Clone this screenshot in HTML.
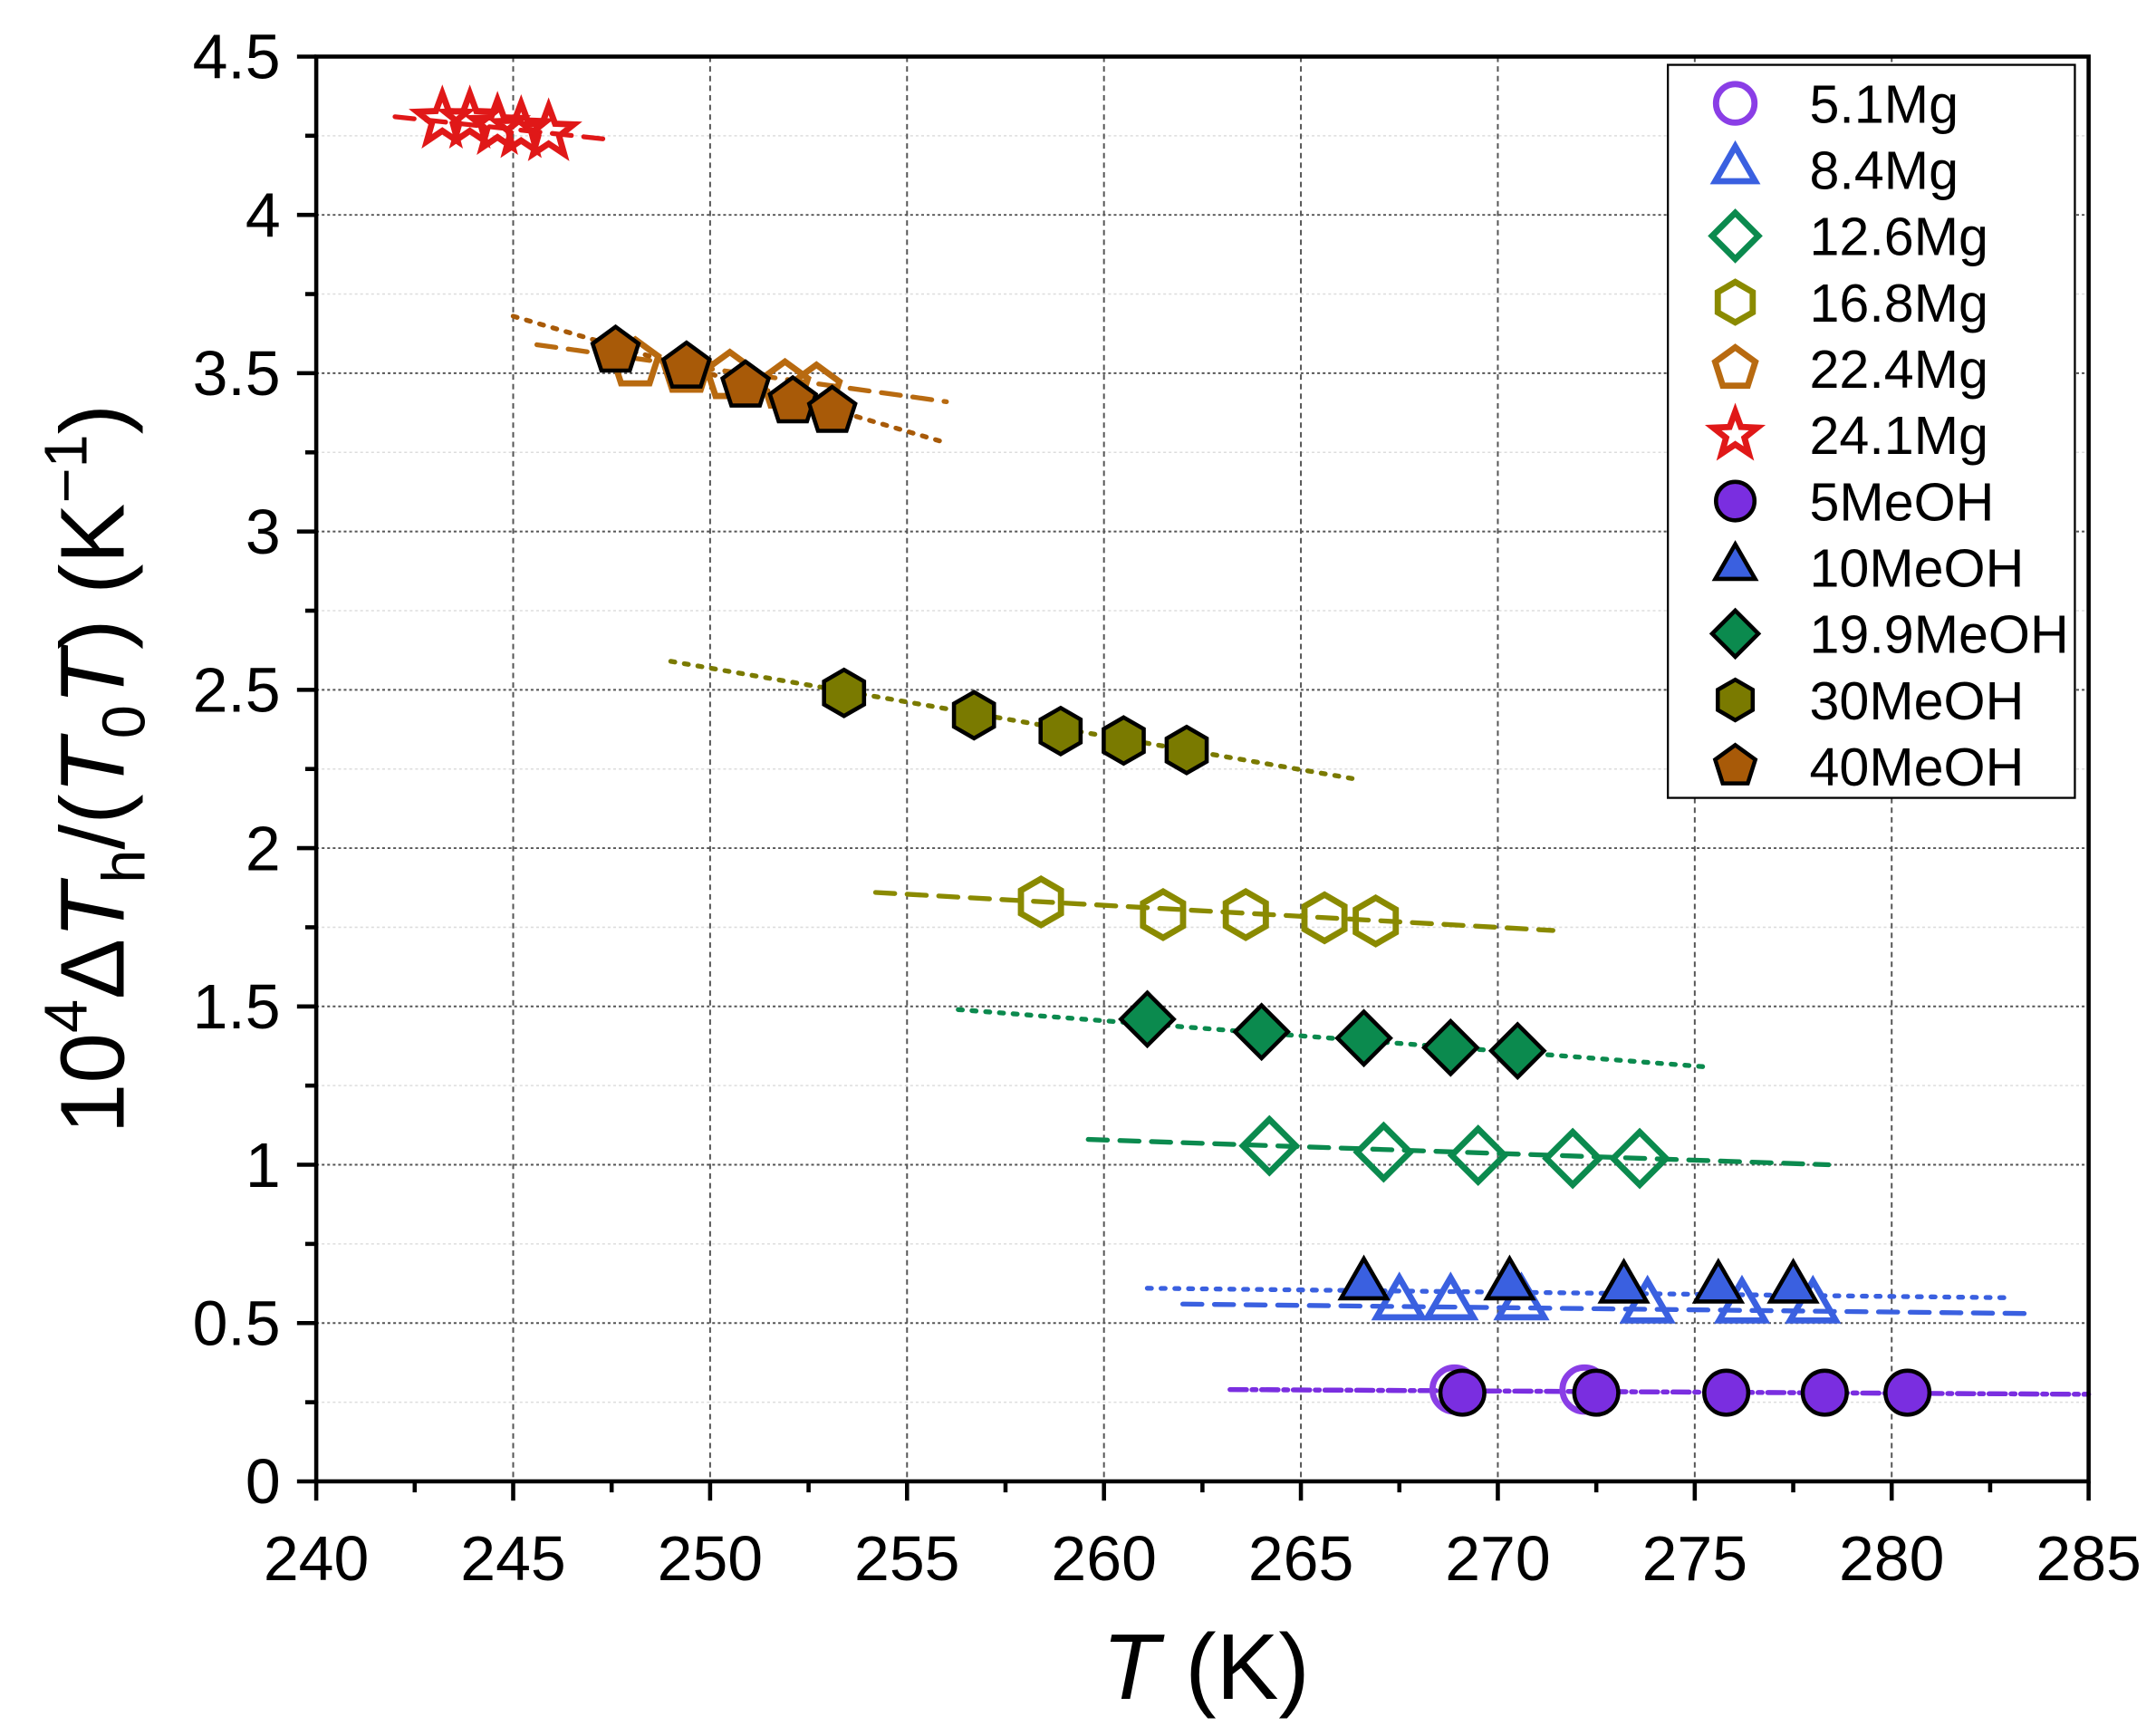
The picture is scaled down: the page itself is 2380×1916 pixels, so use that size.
<!DOCTYPE html>
<html><head><meta charset="utf-8"><style>
html,body{margin:0;padding:0;background:#fff}
svg{display:block}
text{font-family:"Liberation Sans",sans-serif}
</style></head><body>
<svg id="chart" width="2380" height="1916" viewBox="0 0 1568 1262" xmlns="http://www.w3.org/2000/svg">
<g id="grid"></g>
<g id="fits"></g>
<g id="marks"></g>
<g id="axes"></g>
<text x="877" y="1235" font-size="68" text-anchor="middle"><tspan font-style="italic">T</tspan> (K)</text>
<text transform="translate(90,559) rotate(-90)" font-size="66" text-anchor="middle">10<tspan font-size="44" dy="-27">4</tspan><tspan dy="27">Δ</tspan><tspan font-style="italic">T</tspan><tspan font-size="44" dy="15">h</tspan><tspan dy="-15">/(</tspan><tspan font-style="italic">T</tspan><tspan font-size="44" dy="15">0</tspan><tspan font-style="italic" dy="-15">T</tspan>) (K<tspan font-size="44" dy="-27">−1</tspan><tspan dy="27">)</tspan></text>
<g id="legend"></g>
</svg>
<script>
const NS="http://www.w3.org/2000/svg";
const seriesNames=["5.1Mg","8.4Mg","12.6Mg","16.8Mg","22.4Mg","24.1Mg","5MeOH","10MeOH","19.9MeOH","30MeOH","40MeOH"];
const seriesColors=["#8a3ee6","#3a60e0","#0b8a4e","#8a8a00","#b86a10","#e01818","#7a2ee0","#3a60e0","#0b8a4e","#7a7a00","#a85a08"];
const seriesShapes=["circle","triangle","diamond","hexagon","pentagon","star","circle","triangle","diamond","hexagon","pentagon"];
const seriesFilled=[false,false,false,false,false,false,true,true,true,true,true];
const xTicks=[240,245,250,255,260,265,270,275,280,285];
const yTicks=[0,0.5,1,1.5,2,2.5,3,3.5,4,4.5];
const yTickLabels=["0","0.5","1","1.5","2","2.5","3","3.5","4","4.5"];
// data
const t51=[268.9,272.2], v51=[0.29,0.29];
const t84=[267.5,268.8,270.6,273.8,276.2,278.0], v84=[0.56,0.56,0.56,0.55,0.55,0.55];
const t126=[264.2,267.1,269.5,271.9,273.6], v126=[1.06,1.04,1.03,1.02,1.02];
const t168=[258.4,261.5,263.6,265.6,266.9], v168=[1.83,1.79,1.79,1.78,1.77];
const t224=[248.1,249.4,250.5,251.9,252.7], v224=[3.53,3.51,3.49,3.46,3.45];
const t241=[243.2,243.9,244.6,245.2,245.9], v241=[4.30,4.30,4.28,4.27,4.26];
const t5m=[269.1,272.5,275.8,278.3,280.4], v5m=[0.28,0.28,0.28,0.28,0.28];
const t10m=[266.6,270.3,273.2,275.6,277.5], v10m=[0.62,0.62,0.61,0.61,0.61];
const t199m=[261.1,264.0,266.6,268.8,270.5], v199m=[1.46,1.42,1.40,1.37,1.36];
const t30m=[253.4,256.7,258.9,260.5,262.1], v30m=[2.49,2.42,2.37,2.34,2.31];
const t40m=[247.6,249.4,250.9,252.1,253.1], v40m=[3.57,3.52,3.46,3.41,3.38];
const seriesT=[t51,t84,t126,t168,t224,t241,t5m,t10m,t199m,t30m,t40m];
const seriesV=[v51,v84,v126,v168,v224,v241,v5m,v10m,v199m,v30m,v40m];
const fitT1=[263.2,262.0,259.6,254.2,245.6,242.0,263.2,261.1,256.3,249.0,245.0];
const fitV1=[0.29,0.56,1.08,1.86,3.59,4.31,0.29,0.61,1.49,2.59,3.68];
const fitT2=[285.0,283.5,278.4,271.4,256.0,247.3,285.0,283.0,275.2,266.3,256.0];
const fitV2=[0.275,0.53,1.00,1.74,3.41,4.24,0.275,0.58,1.31,2.22,3.28];
const fitDash=["12 4 3 4","14 9","14 9","14 9","14 9","14 9","12 4 3 4","3 7","3 7","3 7","3 7"];

const X0=230,X1=1519,Y0=1077,Y1=41;
const xs=t=>X0+(t-240)/(285-240)*(X1-X0);
const ys=v=>Y0-v/4.5*(Y0-Y1);
function mk(tag,attrs,parent){const e=document.createElementNS(NS,tag);for(const k in attrs)e.setAttribute(k,attrs[k]);parent.appendChild(e);return e;}
const grid=document.getElementById('grid'),axes=document.getElementById('axes'),fits=document.getElementById('fits'),marks=document.getElementById('marks'),legend=document.getElementById('legend');

for(let v=0.25;v<4.5;v+=0.5){const l=mk('line',{x1:X0,x2:X1,y1:ys(v),y2:ys(v),stroke:'#ddd','stroke-width':1,'stroke-dasharray':'2 2'},grid);

}
xTicks.slice(1,-1).forEach(t=>{const l=mk('line',{x1:xs(t),x2:xs(t),y1:Y1,y2:Y0,stroke:'#555','stroke-width':1.3,'stroke-dasharray':'4 3'},grid);

});
yTicks.slice(1,-1).forEach(v=>{const l=mk('line',{x1:X0,x2:X1,y1:ys(v),y2:ys(v),stroke:'#555','stroke-width':1.3,'stroke-dasharray':'2 2'},grid);

});

const frame=mk('rect',{x:X0,y:Y1,width:X1-X0,height:Y0-Y1,fill:'none',stroke:'#000','stroke-width':3},axes);


for(let t=240;t<=285;t+=2.5){const major=(t%5===0);const l=mk('line',{x1:xs(t),x2:xs(t),y1:Y0,y2:Y0+(major?14:8),stroke:'#000','stroke-width':3},axes);

}
xTicks.forEach(t=>{const tx=mk('text',{x:xs(t),y:Y0+72,'font-size':46,'text-anchor':'middle'},axes);tx.textContent=t;

});
for(let v=0;v<=4.5001;v+=0.25){const major=(Math.round(v*4)%2===0);const l=mk('line',{x1:X0-(major?14:8),x2:X0,y1:ys(v),y2:ys(v),stroke:'#000','stroke-width':3},axes);

}
yTicks.forEach((v,i)=>{const tx=mk('text',{x:X0-26,y:ys(v)+16,'font-size':46,'text-anchor':'end'},axes);tx.textContent=yTickLabels[i];

});

function shapePath(s,cx,cy,r){
 const poly=(n,rot,rr)=>{let p=[];for(let i=0;i<n;i++){const a=rot+i*2*Math.PI/n;p.push((cx+rr*Math.cos(a)).toFixed(1)+','+(cy+rr*Math.sin(a)).toFixed(1));}return 'M'+p.join('L')+'Z';};
 if(s==='circle')return `M${cx-r},${cy}a${r},${r} 0 1,0 ${2*r},0a${r},${r} 0 1,0 ${-2*r},0Z`;
 if(s==='triangle')return poly(3,-Math.PI/2,r*1.2);
 if(s==='diamond')return poly(4,-Math.PI/2,r*1.2);
 if(s==='hexagon')return poly(6,-Math.PI/2,r*1.05);
 if(s==='pentagon')return poly(5,-Math.PI/2,r*1.1);
 if(s==='star'){let p=[];for(let i=0;i<10;i++){const a=-Math.PI/2+i*Math.PI/5,rr=i%2?r*0.5:r*1.2;p.push((cx+rr*Math.cos(a)).toFixed(1)+','+(cy+rr*Math.sin(a)).toFixed(1));}return 'M'+p.join('L')+'Z';}
}
function drawMarker(i,cx,cy,r,parent){
 const f=seriesFilled[i];
 return mk('path',{d:shapePath(seriesShapes[i],cx,cy,r),fill:f?seriesColors[i]:'none',stroke:f?'#000':seriesColors[i],'stroke-width':f?3:4.5,'stroke-linejoin':'miter'},parent);
}
seriesNames.forEach((n,i)=>{
 const l=mk('line',{x1:xs(fitT1[i]),y1:ys(fitV1[i]),x2:xs(fitT2[i]),y2:ys(fitV2[i]),stroke:seriesColors[i],'stroke-width':3.5,'stroke-dasharray':fitDash[i],'stroke-linecap':'round'},fits);
 
 
});
seriesNames.forEach((n,i)=>{
 seriesT[i].forEach((t,j)=>{
  const p=drawMarker(i,xs(t),ys(seriesV[i][j]),16,marks);
  
  
 });
});
const lb=mk('rect',{x:1213,y:47,width:296,height:533,fill:'#fff',stroke:'#000','stroke-width':1.5},legend);


seriesNames.forEach((n,i)=>{
 const cy=75+i*48.2;
 const g=mk('g',{},legend);
 
 
 drawMarker(i,1262,cy,14,g);
 const tx=mk('text',{x:1316,y:cy+14,'font-size':39},g);tx.textContent=n;
});
</script>
</body></html>
